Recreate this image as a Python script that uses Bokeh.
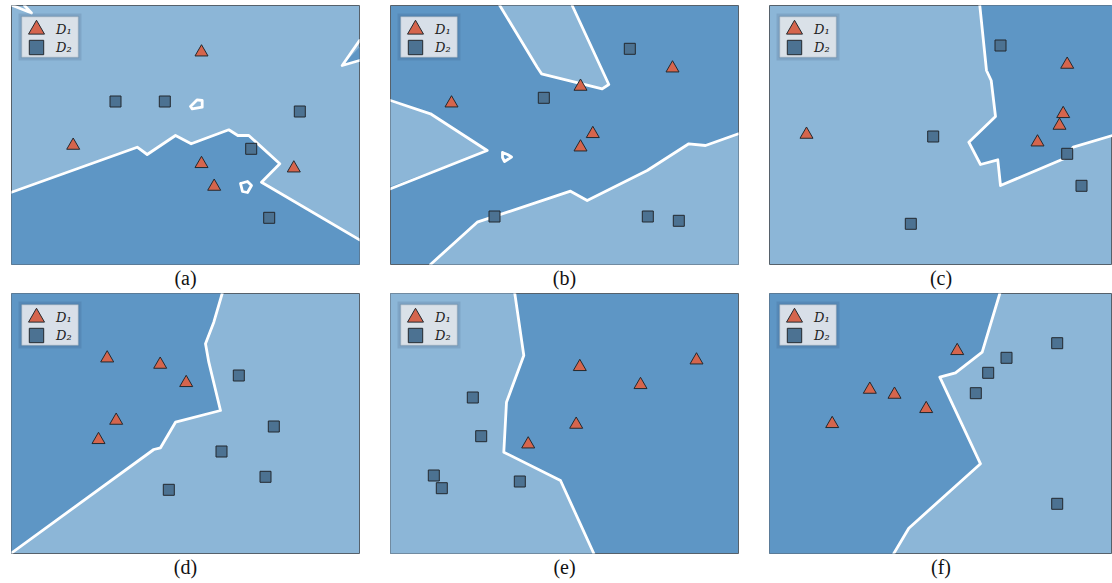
from bokeh.plotting import figure
from bokeh.layouts import column, row
from bokeh.models import Range1d, Legend, LegendItem, BoxAnnotation
from bokeh.embed import file_html
from bokeh.resources import INLINE

LIGHT = "#8cb6d7"
DARK = "#5e96c5"
TRI_FILL = "#d5654d"
SQ_FILL = "#4c7292"
EDGE = "#23292f"
WHITE = "#ffffff"

CAPTIONS = ["(a)", "(b)", "(c)", "(d)", "(e)", "(f)"]
SERIES = ["D\u2081", "D\u2082"]

# ---------------- panel (a) ----------------
A_TRI_X = [190.0, 61.7, 190.0, 202.7, 282.3]
A_TRI_Y = [46.7, 140.0, 158.3, 181.0, 162.7]
A_SQ_X = [104.0, 153.3, 288.3, 239.7, 257.7]
A_SQ_Y = [96.0, 96.0, 106.0, 143.3, 212.3]
A_BND_X = [0.0, 125.7, 135.7, 164.0, 179.7, 217.3, 226.3, 237.3, 268.3, 250.0, 348.0]
A_BND_Y = [186.7, 141.7, 149.0, 130.0, 138.3, 124.3, 130.0, 130.0, 158.3, 176.7, 234.3]
A_WEDGE_X = [348.0, 330.7, 348.0]
A_WEDGE_Y = [35.0, 60.0, 55.0]
A_ISL1_X = [179.0, 185.7, 190.7, 190.7, 180.7, 179.0]
A_ISL1_Y = [101.0, 94.3, 95.0, 101.7, 103.3, 101.0]
A_ISL2_X = [229.0, 236.0, 240.0, 236.0, 231.0, 229.0]
A_ISL2_Y = [178.0, 176.0, 180.0, 187.0, 186.0, 178.0]
A_SLIV_X = [1.0, 20.0, 13.0]
A_SLIV_Y = [0.0, 7.5, 0.0]

# ---------------- panel (b) ----------------
B_TRI_X = [190.0, 61.0, 282.0, 202.3, 190.0]
B_TRI_Y = [81.0, 97.7, 62.7, 128.3, 141.7]
B_SQ_X = [239.3, 153.3, 104.0, 257.3, 288.3]
B_SQ_Y = [43.3, 92.3, 211.0, 211.0, 215.3]
B_TOP_X = [109.3, 146.7, 151.0, 211.7, 218.3, 181.7]
B_TOP_Y = [0.0, 61.7, 68.3, 83.3, 79.0, 0.0]
B_LEFT_X = [0.0, 40.0, 96.7, 0.0]
B_LEFT_Y = [95.0, 108.3, 145.0, 183.3]
B_BR_X = [40.0, 86.7, 180.0, 196.7, 256.7, 298.3, 315.0, 348.0]
B_BR_Y = [259.0, 216.7, 185.7, 195.0, 165.0, 138.3, 140.0, 128.3]
B_ISL_X = [112.0, 117.0, 121.0, 114.0, 112.0, 112.0]
B_ISL_Y = [147.0, 149.0, 151.5, 156.0, 152.0, 147.0]

# ---------------- panel (c) ----------------
C_TRI_X = [297.7, 293.7, 290.0, 268.0, 37.0]
C_TRI_Y = [59.0, 108.3, 120.0, 136.7, 129.0]
C_SQ_X = [231.0, 163.7, 297.7, 312.0, 141.3]
C_SQ_Y = [40.0, 131.0, 148.3, 180.3, 218.3]
C_BND_X = [210.3, 217.0, 221.7, 226.0, 199.3, 211.0, 228.3, 231.0, 294.3, 303.7, 348.0]
C_BND_Y = [0.0, 65.0, 75.0, 111.0, 136.7, 159.0, 154.3, 180.0, 153.3, 141.7, 128.5]

# ---------------- panel (d) ----------------
D_TRI_X = [95.7, 148.7, 174.7, 104.7, 87.0]
D_TRI_Y = [64.7, 71.0, 89.3, 127.0, 146.3]
D_SQ_X = [227.3, 262.3, 210.0, 254.0, 157.3]
D_SQ_Y = [82.0, 133.0, 158.0, 183.3, 196.3]
D_BND_X = [210.7, 202.3, 194.0, 197.3, 209.0, 164.0, 149.0, 142.3, 0.0]
D_BND_Y = [0.0, 28.7, 50.3, 68.7, 117.0, 128.7, 154.3, 156.0, 259.5]

# ---------------- panel (e) ----------------
E_TRI_X = [189.3, 306.0, 250.0, 185.7, 137.7]
E_TRI_Y = [73.3, 66.7, 91.3, 131.0, 150.7]
E_SQ_X = [82.3, 90.7, 43.3, 51.3, 129.3]
E_SQ_Y = [104.0, 142.7, 182.0, 194.7, 188.0]
E_BND_X = [124.3, 133.3, 116.0, 113.3, 170.0, 203.3]
E_BND_Y = [0.0, 62.0, 108.7, 158.7, 187.0, 260.0]

# ---------------- panel (f) ----------------
F_TRI_X = [187.7, 100.3, 125.0, 156.7, 62.7]
F_TRI_Y = [57.3, 96.0, 101.0, 115.3, 130.3]
F_SQ_X = [287.7, 237.0, 218.7, 206.3, 287.7]
F_SQ_Y = [49.7, 64.3, 79.3, 99.7, 210.3]
F_BND_X = [230.3, 212.7, 186.0, 170.3, 211.0, 139.3, 124.3]
F_BND_Y = [0.0, 58.7, 79.3, 83.7, 170.3, 234.7, 260.0]

# legend box (same unit as the panels' coordinates)
LEG_BOX = dict(left=10, right=67, top=11, bottom=52)


def make_panel(caption, bg, frame_w, frame_h, top, left, right, bottom):
    p = figure(width=left + frame_w + right, height=top + frame_h + bottom,
               x_range=Range1d(0, frame_w), y_range=Range1d(frame_h, 0),
               output_backend="svg", toolbar_location=None,
               x_axis_location=None, y_axis_location=None,
               min_border_left=left, min_border_right=right,
               min_border_top=top, min_border_bottom=bottom,
               title=caption, title_location="below")
    p.grid.visible = False
    p.background_fill_color = bg
    p.border_fill_color = "white"
    p.outline_line_color = "#56616b"
    p.outline_line_width = 1
    p.title.align = "center"
    p.title.text_font = "Liberation Serif"
    p.title.text_font_size = "20px"
    p.title.text_font_style = "normal"
    p.title.text_color = "#111111"
    p.title.standoff = 1
    return p


def fill(p, xs, ys, color):
    p.patch(xs, ys, fill_color=color, line_color=None)


def bline(p, xs, ys):
    p.line(xs, ys, line_color=WHITE, line_width=2.8, line_join="round", line_cap="round")


def one_legend(label, renderer, glyph, left, top, frame_h, standoff):
    # tuple location = (px from frame left, px from frame bottom to legend bottom)
    return Legend(items=[LegendItem(label=label, renderers=[renderer])],
                  location=(left, frame_h - top - glyph), margin=0, padding=0,
                  glyph_width=glyph, glyph_height=glyph, label_standoff=standoff,
                  label_width=20, label_height=min(glyph, 18),
                  label_text_font="DejaVu Serif", label_text_font_style="italic",
                  label_text_font_size="13px", label_text_color="#222222",
                  background_fill_alpha=0.0, border_line_color=None)


def markers(p, frame_h, tx, ty, sx, sy):
    rt = p.scatter(tx, ty, marker="triangle", size=13, fill_color=TRI_FILL,
                   line_color=EDGE, line_width=1)
    rs = p.rect(sx, sy, width=11, height=11, width_units="screen", height_units="screen",
                fill_color=SQ_FILL, line_color=EDGE, line_width=1)
    shadow = BoxAnnotation(left=LEG_BOX["left"] - 3, right=LEG_BOX["right"] + 3,
                           top=LEG_BOX["top"] - 3, bottom=LEG_BOX["bottom"] + 3,
                           fill_color="#1d3550", fill_alpha=0.12, line_color=None)
    box = BoxAnnotation(fill_color="#dfe4ea", fill_alpha=0.95,
                        line_color="#2d4a66", line_alpha=0.2, line_width=1.5, **LEG_BOX)
    p.add_layout(shadow)
    p.add_layout(box)
    p.add_layout(one_legend(SERIES[0], rt, 40, 5, 4, frame_h, 0))
    p.add_layout(one_legend(SERIES[1], rs, 18, 16, 33, frame_h, 11))


PAD = 6
W = 348
WC = 343
H1 = 259
H2 = 260

# (a)
pa = make_panel(CAPTIONS[0], LIGHT, W, H1, 5, 11, 16, 29)
fill(pa, A_BND_X + [W + PAD, W + PAD, -PAD, -PAD],
     A_BND_Y + [A_BND_Y[-1], H1 + PAD, H1 + PAD, A_BND_Y[0]], DARK)
bline(pa, A_BND_X, A_BND_Y)
fill(pa, [W + PAD] + A_WEDGE_X[1:2] + [W + PAD], [A_WEDGE_Y[0], A_WEDGE_Y[1], A_WEDGE_Y[2]], DARK)
bline(pa, A_WEDGE_X, A_WEDGE_Y)
bline(pa, A_ISL1_X, A_ISL1_Y)
bline(pa, A_ISL2_X, A_ISL2_Y)
bline(pa, A_SLIV_X, A_SLIV_Y)
markers(pa, H1, A_TRI_X, A_TRI_Y, A_SQ_X, A_SQ_Y)

# (b)
pb = make_panel(CAPTIONS[1], DARK, W, H1, 5, 15, 16, 29)
fill(pb, B_TOP_X, B_TOP_Y, LIGHT)
bline(pb, B_TOP_X, B_TOP_Y)
fill(pb, [-PAD] + B_LEFT_X[1:3] + [-PAD], B_LEFT_Y, LIGHT)
bline(pb, B_LEFT_X, B_LEFT_Y)
fill(pb, B_BR_X + [W + PAD, W + PAD, B_BR_X[0] - PAD],
     B_BR_Y + [B_BR_Y[-1], H1 + PAD, H1 + PAD], LIGHT)
bline(pb, B_BR_X, B_BR_Y)
bline(pb, B_ISL_X, B_ISL_Y)
markers(pb, H1, B_TRI_X, B_TRI_Y, B_SQ_X, B_SQ_Y)

# (c)
pc = make_panel(CAPTIONS[2], LIGHT, WC, H1, 5, 15, 0, 29)
fill(pc, C_BND_X + [W + PAD, W + PAD, C_BND_X[0]],
     C_BND_Y + [C_BND_Y[-1], -PAD, -PAD], DARK)
bline(pc, C_BND_X, C_BND_Y)
markers(pc, H1, C_TRI_X, C_TRI_Y, C_SQ_X, C_SQ_Y)

# (d)
pd_ = make_panel(CAPTIONS[3], LIGHT, W, H2, 0, 11, 16, 28)
fill(pd_, D_BND_X + [-PAD, -PAD, D_BND_X[0]],
     D_BND_Y + [H2 + PAD, -PAD, -PAD], DARK)
bline(pd_, D_BND_X, D_BND_Y)
markers(pd_, H2, D_TRI_X, D_TRI_Y, D_SQ_X, D_SQ_Y)

# (e)
pe = make_panel(CAPTIONS[4], DARK, W, H2, 0, 15, 16, 28)
fill(pe, E_BND_X + [E_BND_X[-1], -PAD, -PAD, E_BND_X[0]],
     E_BND_Y + [H2 + PAD, H2 + PAD, -PAD, -PAD], LIGHT)
bline(pe, E_BND_X, E_BND_Y)
markers(pe, H2, E_TRI_X, E_TRI_Y, E_SQ_X, E_SQ_Y)

# (f)
pf = make_panel(CAPTIONS[5], LIGHT, WC, H2, 0, 15, 0, 28)
fill(pf, F_BND_X + [F_BND_X[-1], -PAD, -PAD, F_BND_X[0]],
     F_BND_Y + [H2 + PAD, H2 + PAD, -PAD, -PAD], DARK)
bline(pf, F_BND_X, F_BND_Y)
markers(pf, H2, F_TRI_X, F_TRI_Y, F_SQ_X, F_SQ_Y)

layout = column(row(pa, pb, pc, spacing=0), row(pd_, pe, pf, spacing=0), spacing=0)

open("out.html", "w").write(file_html(layout, INLINE))
